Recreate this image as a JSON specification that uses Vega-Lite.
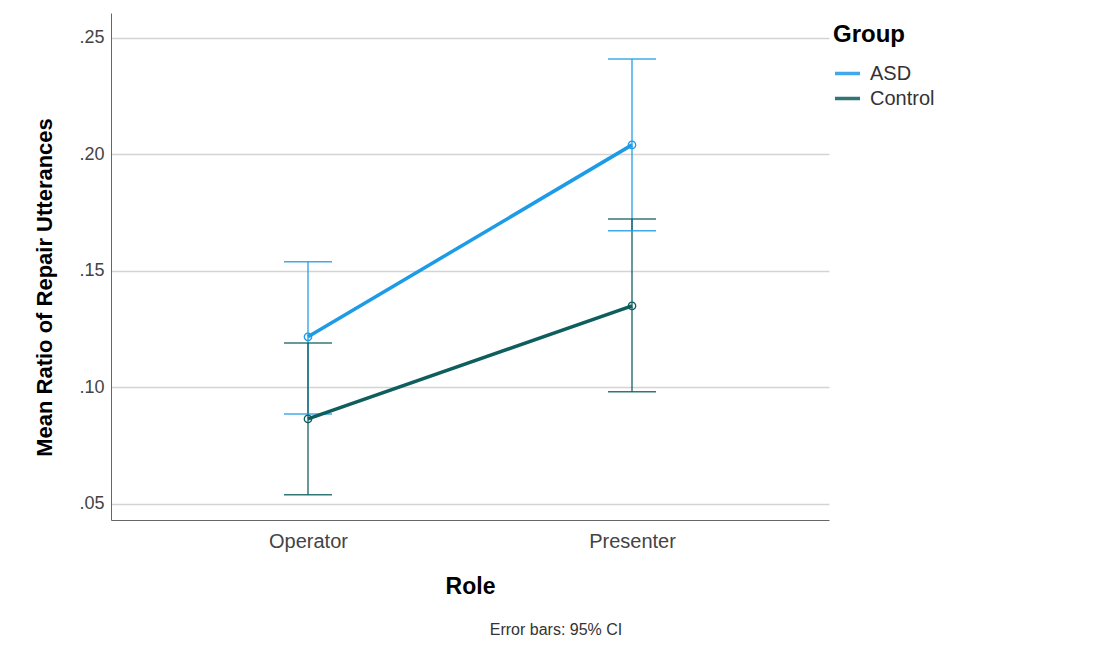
{
  "$schema": "https://vega.github.io/schema/vega-lite/v6.json",
  "width": 718,
  "height": 507,
  "autosize": {"type": "none"},
  "padding": {"left": 111, "top": 13, "right": 274, "bottom": 128},
  "background": "white",
  "title": {
    "text": "Error bars: 95% CI",
    "orient": "bottom",
    "anchor": "middle",
    "dx": 86,
    "offset": 24,
    "fontSize": 16,
    "fontWeight": "normal",
    "font": "Liberation Sans",
    "color": "#333333"
  },
  "config": {
    "view": {"stroke": null},
    "font": "Liberation Sans"
  },
  "data": {
    "values": [
      {"Role": "Operator", "Group": "ASD", "mean": 0.1217, "lo": 0.0886, "hi": 0.1539},
      {"Role": "Presenter", "Group": "ASD", "mean": 0.2041, "lo": 0.1672, "hi": 0.241},
      {"Role": "Operator", "Group": "Control", "mean": 0.0865, "lo": 0.0539, "hi": 0.1191},
      {"Role": "Presenter", "Group": "Control", "mean": 0.135, "lo": 0.0981, "hi": 0.1723}
    ]
  },
  "encoding": {
    "x": {
      "field": "Role",
      "type": "nominal",
      "scale": {"type": "point", "padding": 0.608},
      "axis": {
        "title": "Role",
        "titleFontSize": 23,
        "titleFontWeight": "bold",
        "titleColor": "#000000",
        "titlePadding": 24,
        "labelFontSize": 20,
        "labelColor": "#444444",
        "labelAngle": 0,
        "labelPadding": 11,
        "ticks": false,
        "grid": false,
        "domainColor": "#666666",
        "domainWidth": 1
      }
    },
    "color": {
      "field": "Group",
      "type": "nominal",
      "scale": {"domain": ["ASD", "Control"], "range": ["#1e9be6", "#0e5e5d"]},
      "legend": {
        "title": "Group",
        "orient": "none",
        "legendX": 722,
        "legendY": 10,
        "titleFontSize": 24,
        "titleFontWeight": "bold",
        "titleColor": "#000000",
        "titlePadding": 12,
        "labelFontSize": 20,
        "labelColor": "#333333",
        "symbolType": "stroke",
        "symbolStrokeWidth": 3.5,
        "symbolSize": 625,
        "labelOffset": 8,
        "rowPadding": 0
      }
    }
  },
  "layer": [
    {
      "mark": {"type": "rule", "strokeWidth": 1.5, "opacity": 0.85},
      "encoding": {
        "y": {
          "field": "lo",
          "type": "quantitative",
          "scale": {"domain": [0.0431, 0.2607], "nice": false, "zero": false},
          "axis": {
            "title": "Mean Ratio of Repair Utterances",
            "titleFontSize": 22,
            "titleFontWeight": "bold",
            "titleColor": "#000000",
            "titlePadding": 22,
            "titleY": 274,
            "values": [0.05, 0.1, 0.15, 0.2, 0.25],
            "labelExpr": "substring(format(datum.value, '.2f'), 1)",
            "labelFontSize": 18,
            "labelColor": "#444444",
            "labelPadding": 7,
            "ticks": false,
            "grid": true,
            "gridColor": "#d4d4d4",
            "gridWidth": 1.5,
            "domainColor": "#666666",
            "domainWidth": 1
          }
        },
        "y2": {"field": "hi"}
      }
    },
    {
      "mark": {"type": "tick", "thickness": 1.5, "size": 48, "opacity": 0.85},
      "encoding": {"y": {"field": "lo", "type": "quantitative"}}
    },
    {
      "mark": {"type": "tick", "thickness": 1.5, "size": 48, "opacity": 0.85},
      "encoding": {"y": {"field": "hi", "type": "quantitative"}}
    },
    {
      "mark": {"type": "line", "strokeWidth": 3.5},
      "encoding": {"y": {"field": "mean", "type": "quantitative"}}
    },
    {
      "mark": {"type": "point", "filled": false, "size": 55, "strokeWidth": 1.3, "opacity": 1},
      "encoding": {"y": {"field": "mean", "type": "quantitative"}}
    }
  ]
}
